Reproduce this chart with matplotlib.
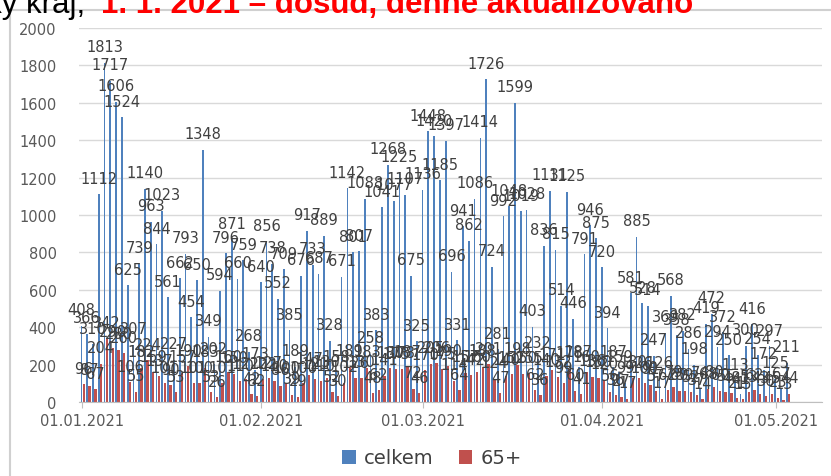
import matplotlib.pyplot as plt
import matplotlib.dates as mdates
from matplotlib.lines import Line2D
import pandas as pd

# daily counts, 01.01.2021 onwards
celkem = [408, 366, 310, 1112, 1813, 1717, 1606, 1524, 625, 307,
          739, 1140, 963, 844, 1023, 561, 227, 662, 793, 454,
          650, 1348, 349, 202, 594, 796, 871, 660, 759, 268,
          173, 640, 856, 738, 552, 709, 385, 189, 676, 917,
          733, 687, 889, 328, 158, 671, 1142, 801, 807, 1088,
          258, 383, 1041, 1268, 1077, 1225, 1107, 675, 325, 1136,
          1448, 1420, 1185, 1397, 696, 331, 941, 862, 1086, 1414,
          1726, 724, 281, 992, 1048, 1599, 1019, 1028, 403, 232,
          836, 1131, 815, 514, 1125, 446, 187, 791, 946, 875,
          720, 394, 187, 159, 99, 581, 885, 528, 514, 247,
          126, 369, 568, 358, 382, 286, 198, 74, 419, 472,
          294, 372, 250, 113, 41, 300, 416, 254, 172, 297,
          125, 67, 211]
vek65 = [96, 87, 67, 204, 342, 290, 280, 260, 106, 55,
         182, 224, 159, 137, 101, 90, 53, 157, 190, 101,
         100, 183, 53, 26, 101, 160, 150, 110, 122, 42,
         32, 122, 127, 110, 86, 100, 39, 29, 100, 147,
         121, 110, 130, 52, 30, 102, 189, 126, 130, 183,
         48, 62, 141, 180, 175, 178, 187, 72, 46, 170,
         205, 206, 175, 190, 114, 64, 157, 142, 160, 188,
         201, 124, 47, 140, 152, 198, 150, 155, 62, 36,
         140, 171, 132, 99, 178, 60, 41, 160, 136, 130,
         120, 56, 36, 27, 17, 130, 126, 100, 91, 57,
         17, 62, 79, 60, 59, 52, 37, 14, 68, 80,
         60, 55, 48, 21, 15, 53, 62, 43, 30, 45,
         23, 13, 44]
dny = pd.date_range('2021-01-01', periods=len(celkem), freq='D')

blue = '#4F81BD'
red = '#C0504D'

fig = plt.figure(figsize=(8.31, 4.77), dpi=100)
ax = fig.add_axes([79/831, 1-403/477, 743/831, 374/477])

xb = dny - pd.Timedelta(hours=2)
xr = dny + pd.Timedelta(hours=8)
ax.bar(xb, celkem, width=0.3, color=blue, linewidth=0, label='celkem')
ax.bar(xr, vek65, width=0.4, color=red, linewidth=0, label='65+')

for x, v in zip(xb, celkem):
    ax.annotate(str(v), (x, v), xytext=(0, 16), textcoords='offset pixels',
                ha='center', va='center', fontsize=10.5, color='#404040')
for x, v in zip(xr, vek65):
    ax.annotate(str(v), (x, v), xytext=(0, 16), textcoords='offset pixels',
                ha='center', va='center', fontsize=10.5, color='#404040')

ax.set_ylim(0, 2000)
ax.set_yticks(range(0, 2001, 200))
ax.set_xlim(pd.Timestamp('2020-12-31 12:00'), pd.Timestamp('2021-05-09'))
ax.set_xticks(pd.to_datetime(['2021-01-01', '2021-02-01', '2021-03-01',
                              '2021-04-01', '2021-05-01']))
ax.xaxis.set_major_formatter(mdates.DateFormatter('%d.%m.%Y'))
ax.grid(axis='y', color='#D9D9D9', linewidth=1)
ax.set_axisbelow(True)
for s in ['top', 'right', 'left']:
    ax.spines[s].set_visible(False)
ax.spines['bottom'].set_color('#BFBFBF')
ax.tick_params(axis='y', length=0, pad=16, labelsize=10.5, labelcolor='#595959')
ax.tick_params(axis='x', length=4, color='#BFBFBF', pad=4, labelsize=10.5,
               labelcolor='#595959')

ax.legend(loc='center', bbox_to_anchor=(432/831, 1-459/477),
          bbox_transform=fig.transFigure, ncol=2, frameon=False, fontsize=14,
          handlelength=0.7, handleheight=0.7, handletextpad=0.4, columnspacing=1.3,
          labelcolor='#404040')

# chart area border, partly cut off
fig.add_artist(Line2D([10/831, 10/831], [0, 1-11/477], transform=fig.transFigure,
                      color='#D0D0D0', linewidth=1.5))
fig.add_artist(Line2D([10/831, 1], [1-11/477, 1-11/477], transform=fig.transFigure,
                      color='#D0D0D0', linewidth=1.5))

fig.text(85/831, 1-13/477, 'Počet pozitivně testovaných – Zlínský kraj,', ha='right',
         va='baseline', fontsize=22.5, family='Liberation Sans', color='black')
fig.text(101/831, 1-13/477, '1. 1. 2021 – dosud, denně aktualizováno', ha='left',
         va='baseline', fontsize=22.5, family='Liberation Sans', fontweight='bold',
         color='#FF0000')

fig.savefig('out.png', dpi=100)
